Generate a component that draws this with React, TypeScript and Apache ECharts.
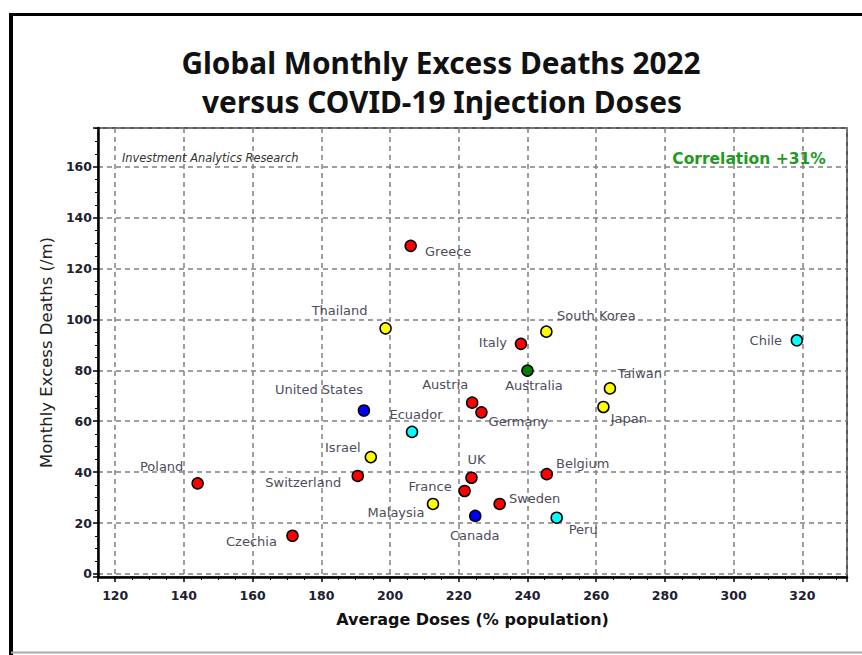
import React, { useEffect, useRef } from "react";
import * as echarts from "echarts";

// ---- Data ----
const countries = [
  "Greece", "Thailand", "South Korea", "Italy", "Chile", "Australia", "Taiwan", "Japan",
  "Austria", "Germany", "United States", "Ecuador", "Israel", "Poland", "Switzerland", "UK",
  "Belgium", "France", "Malaysia", "Sweden", "Canada", "Peru", "Czechia",
];
const averageDoses = [
  206.0, 198.7, 245.5, 238.1, 318.4, 240.0, 264.0, 262.1,
  223.9, 226.6, 192.4, 206.4, 194.4, 144.0, 190.6, 223.7,
  245.6, 221.7, 212.5, 231.9, 224.8, 248.5, 171.6,
];
const excessDeaths = [
  128.9, 96.5, 95.2, 90.4, 91.8, 79.9, 72.9, 65.6,
  67.3, 63.5, 64.2, 55.8, 45.9, 35.6, 38.5, 37.8,
  39.2, 32.6, 27.5, 27.5, 22.8, 22.1, 15.0,
];
const continents = [
  "Europe", "Asia", "Asia", "Europe", "South America", "Oceania", "Asia", "Asia",
  "Europe", "Europe", "North America", "South America", "Asia", "Europe", "Europe", "Europe",
  "Europe", "Europe", "Asia", "Europe", "North America", "South America", "Europe",
];
const xTickLabels = [120, 140, 160, 180, 200, 220, 240, 260, 280, 300, 320];
const yTickLabels = [0, 20, 40, 60, 80, 100, 120, 140, 160];
const correlationText = "Correlation +31%";

// ---- Styles / layout ----
const continentColors: Record<string, string> = {
  Europe: "#ff0000",
  Asia: "#ffff00",
  "South America": "#00ffff",
  "North America": "#0000ff",
  Oceania: "#008000",
};
const labelOffsets: Record<string, [number, number]> = {
  Greece: [37.5, 5.5],
  Thailand: [-46, -18],
  "South Korea": [50, -16],
  Italy: [-28, -1],
  Chile: [-31, 0],
  Australia: [6.5, 14.5],
  Taiwan: [30, -15],
  Japan: [25.5, 12],
  Austria: [-27, -18],
  Germany: [37, 9.5],
  "United States": [-45, -21.5],
  Ecuador: [4, -17],
  Israel: [-28, -10],
  Poland: [-36, -17],
  Switzerland: [-54.5, 6.5],
  UK: [5, -18.5],
  Belgium: [36, -10.5],
  France: [-34.5, -4.5],
  Malaysia: [-37, 8.5],
  Sweden: [35, -5],
  Canada: [-0.5, 19.5],
  Peru: [26.5, 11.5],
  Czechia: [-41, 6],
};

const W = 862;
const H = 655;

export default function App() {
  const ref = useRef<HTMLDivElement>(null);

  useEffect(() => {
    if (!ref.current) return;
    const chart = echarts.init(ref.current, null, { renderer: "svg" });

    const data = countries.map((c, i) => ({
      name: c,
      value: [averageDoses[i], excessDeaths[i]],
      itemStyle: { color: continentColors[continents[i]] },
      label: { offset: labelOffsets[c] || [0, -14] },
    }));

    const tickFont = {
      fontFamily: "DejaVu Sans",
      fontWeight: "bold" as const,
      fontSize: 12.5,
      color: "#202030",
    };

    chart.setOption({
      animation: false,
      backgroundColor: "#ffffff",
      grid: {
        left: 98,
        top: 128,
        right: W - 847,
        bottom: H - 577,
        show: true,
        borderColor: "#222",
        borderWidth: 1.5,
        backgroundColor: "transparent",
      },
      xAxis: {
        type: "value",
        min: 115,
        max: 333,
        splitNumber: 11,
        name: "Average Doses (% population)",
        nameLocation: "middle",
        nameGap: 34,
        nameTextStyle: {
          fontFamily: "DejaVu Sans",
          fontWeight: "bold",
          fontSize: 16,
          color: "#111",
        },
        axisLine: { show: true, onZero: false, lineStyle: { color: "#000", width: 2.5 } },
        axisTick: { show: true, length: 5, lineStyle: { color: "#000", width: 1.5 } },
        minorTick: { show: true, splitNumber: 4, length: 3, lineStyle: { color: "#000", width: 1 } },
        axisLabel: {
          ...tickFont,
          margin: 12,
          formatter: (v: number) => (xTickLabels.includes(v) ? String(v) : ""),
        },
        splitLine: {
          show: true,
          lineStyle: { color: "#808080", width: 1.5, type: [5, 4] },
        },
      },
      yAxis: {
        type: "value",
        min: -1.2,
        max: 175.2,
        splitNumber: 9,
        name: "Monthly Excess Deaths (/m)",
        nameLocation: "middle",
        nameGap: 39,
        nameTextStyle: {
          fontFamily: "DejaVu Sans",
          fontSize: 16.5,
          color: "#222",
        },
        axisLine: { show: true, onZero: false, lineStyle: { color: "#000", width: 2.5 } },
        axisTick: { show: true, length: 5, lineStyle: { color: "#000", width: 1.5 } },
        minorTick: { show: true, splitNumber: 4, length: 3, lineStyle: { color: "#000", width: 1 } },
        axisLabel: {
          ...tickFont,
          margin: 6,
          formatter: (v: number) => (yTickLabels.includes(v) ? String(v) : ""),
        },
        splitLine: {
          show: true,
          lineStyle: { color: "#808080", width: 1.5, type: [5, 4] },
        },
      },
      series: [
        {
          type: "scatter",
          symbol: "circle",
          symbolSize: 11,
          itemStyle: { borderColor: "#000", borderWidth: 1.5, opacity: 1 },
          label: {
            show: true,
            position: "inside",
            formatter: "{b}",
            align: "center",
            verticalAlign: "middle",
            fontFamily: "DejaVu Sans",
            fontSize: 13,
            color: "#4d4d5c",
            textBorderWidth: 0,
          },
          emphasis: { disabled: true },
          data,
          z: 5,
        },
      ],
      graphic: [
        // frame
        { type: "line", shape: { x1: 9, y1: 14.5, x2: W, y2: 14.5 }, style: { stroke: "#000", lineWidth: 3 }, silent: true },
        { type: "line", shape: { x1: 11, y1: 13, x2: 11, y2: H }, style: { stroke: "#000", lineWidth: 4 }, silent: true },
        { type: "line", shape: { x1: 11, y1: 652.5, x2: W, y2: 652.5 }, style: { stroke: "#aaaaaa", lineWidth: 2 }, silent: true },
        // title
        {
          type: "text",
          x: 441,
          y: 62,
          style: {
            text: "Global Monthly Excess Deaths 2022",
            fontFamily: "Noto Sans",
            fontWeight: "bold",
            fontSize: 29.8,
            fill: "#111",
            align: "center",
            verticalAlign: "middle",
          },
          silent: true,
        },
        {
          type: "text",
          x: 442,
          y: 101,
          style: {
            text: "versus COVID-19 Injection Doses",
            fontFamily: "Noto Sans",
            fontWeight: "bold",
            fontSize: 29.8,
            fill: "#111",
            align: "center",
            verticalAlign: "middle",
          },
          silent: true,
        },
        {
          type: "text",
          x: 122,
          y: 158,
          z: 10,
          style: {
            text: "Investment Analytics Research",
            fontFamily: "DejaVu Sans",
            fontStyle: "italic",
            fontSize: 11.4,
            fill: "#333",
            align: "left",
            verticalAlign: "middle",
          },
          silent: true,
        },
        {
          type: "text",
          x: 749,
          y: 158.5,
          z: 10,
          style: {
            text: correlationText,
            fontFamily: "DejaVu Sans",
            fontWeight: "bold",
            fontSize: 15.5,
            fill: "#229922",
            align: "center",
            verticalAlign: "middle",
          },
          silent: true,
        },
      ],
    });

    return () => chart.dispose();
  }, []);

  return (
    <div
      ref={ref}
      style={{ position: "absolute", left: 0, top: 0, width: W, height: H, background: "#fff" }}
    />
  );
}
